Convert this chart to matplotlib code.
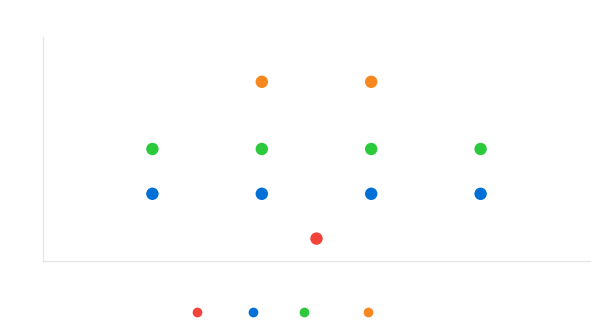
import matplotlib
matplotlib.use("Agg")
import matplotlib.pyplot as plt
from matplotlib.lines import Line2D

# ── data ──────────────────────────────────────────────────────────────────────
red_x    = [2.5]
red_y    = [0.5]
blue_x   = [1, 2, 3, 4]
blue_y   = [1.5, 1.5, 1.5, 1.5]
green_x  = [1, 2, 3, 4]
green_y  = [2.5, 2.5, 2.5, 2.5]
orange_x = [2, 3]
orange_y = [4.0, 4.0]

series = [
    (red_x, red_y, "#f4433b", "  "),
    (blue_x, blue_y, "#006fd6", " "),
    (green_x, green_y, "#2dc93c", "    "),
    (orange_x, orange_y, "#f7871f", ""),
]

# ── plot ──────────────────────────────────────────────────────────────────────
fig = plt.figure(figsize=(6.0, 3.26), dpi=100)
ax = fig.add_axes([43 / 600, 1 - 261 / 326, 547 / 600, 224 / 326])

handles = []
for xs, ys, col, lab in series:
    ax.scatter(xs, ys, s=80, color=col, edgecolors="none", zorder=3)
    handles.append(Line2D([], [], linestyle="none", marker="o", markersize=7,
                          markerfacecolor=col, markeredgecolor="none", label=lab))

ax.set_xlim(0, 5)
ax.set_ylim(0, 5)
ax.set_xticks([])
ax.set_yticks([])
for side in ["top", "right"]:
    ax.spines[side].set_visible(False)
for side in ["left", "bottom"]:
    ax.spines[side].set_color("#e6e6e6")
    ax.spines[side].set_linewidth(1.0)

fig.legend(handles=handles, labels=[h.get_label() for h in handles],
           loc="center", bbox_to_anchor=(283.5 / 600, 1 - 313 / 326),
           ncol=4, frameon=False, handlelength=1.0, handletextpad=0.2,
           columnspacing=2.6, fontsize=9)

fig.savefig("out.png", dpi=100)
